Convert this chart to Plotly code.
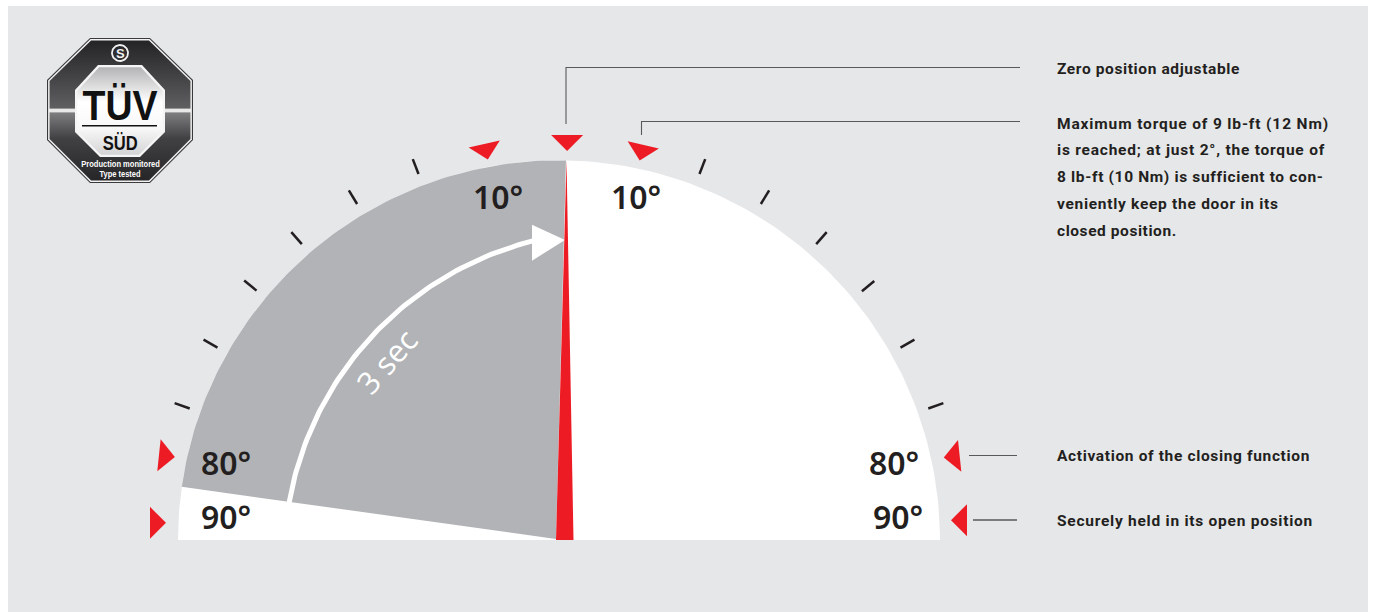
import json
import numpy as np
import plotly.graph_objects as go

# ---------- values ----------
tick_angles_right = [21, 31, 41, 50.6, 60.6, 70.4]
tick_angles_left = [-21, -31, -41, -50.5, -60.6, -70.4]
pointer_angles = [1.2, 12.0, -10.6, 77.9, -77.8, 87.1, -87.5]
pointer_radii = [389, 388, 387, 393.5, 393, 392.5, 393.4]
pointer_turns = [0, 13, -13, 84, -84, 90, -90]
scale_labels = ["10°", "10°", "80°", "90°", "80°", "90°"]
sweep_label = "3 sec"
notes_zero = ["Zero position adjustable"]
notes_torque = ["Maximum torque of 9 lb-ft (12 Nm)",
                "is reached; at just 2°, the torque of",
                "8 lb-ft (10 Nm) is sufficient to con-",
                "veniently keep the door in its",
                "closed position."]
note_closing = "Activation of the closing function"
note_open = "Securely held in its open position"
logo_main = "TÜV"
logo_sub = "SÜD"
logo_lines = ["Production monitored", "Type tested"]

# ---------- geometry ----------
CX, CY, R = 559, 540, 381
SQUASH = 0.9965
GRAY, RED, BG = "#b1b3b6", "#ed1c24", "#e6e7e9"


def polar(a, r, cx=CX, cy=CY, sq=1.0):
    a = np.radians(a)
    return cx + r * np.sin(a), cy - r * sq * np.cos(a)


def poly(xs, ys, color, **kw):
    return go.Scatter(x=list(xs), y=list(ys), mode="lines", fill="toself",
                      fillcolor=color, line=dict(width=0, color=color),
                      hoverinfo="skip", showlegend=False, **kw)


def line(xs, ys, color, width):
    return go.Scatter(x=list(xs), y=list(ys), mode="lines",
                      line=dict(color=color, width=width),
                      hoverinfo="skip", showlegend=False)


fig = go.Figure()

# white half disc
a = np.linspace(-90, 90, 181)
x, y = polar(a, R, sq=SQUASH)
fig.add_trace(poly(x, y, "#ffffff"))

# grey closing sector
a = np.linspace(-81.95, 1.05, 90)
x, y = polar(a, R, sq=SQUASH)
fig.add_trace(poly(list(x) + [556], list(y) + [539], GRAY))

# sweep arc with arrow head
a = np.linspace(-80.3, -14.1, 80)
x, y = polar(a, 329, 613, 560)
fig.add_trace(line(x, y, "#ffffff", 5))
fig.add_trace(poly([532, 565, 532], [224.7, 240, 260.7], "#ffffff"))

# red needle
fig.add_trace(poly([566.5, 573.5, 556], [160, 540, 540], RED))

# ticks
for t in tick_angles_left + tick_angles_right:
    x, y = polar(np.array([t, t]), np.array([392, 408]))
    fig.add_trace(line(x, y, "#231f20", 2.5))

# red pointers
for ang, rad, turn in zip(pointer_angles, pointer_radii, pointer_turns):
    tx, ty = polar(ang, rad)
    tr = np.radians(turn)
    ux, uy = np.sin(tr), -np.cos(tr)      # outward
    vx, vy = np.cos(tr), np.sin(tr)       # sideways
    h, w = 16, 16
    fig.add_trace(poly([tx, tx + h * ux + w * vx, tx + h * ux - w * vx],
                       [ty, ty + h * uy + w * vy, ty + h * uy - w * vy], RED))

# call-out lines
CALL = "#58595b"
fig.add_trace(line([566, 566, 1020], [124, 67.5, 67.5], CALL, 1.1))
fig.add_trace(line([641.5, 641.5, 1020], [135, 121.5, 121.5], CALL, 1.1))
fig.add_trace(line([969, 1017], [455.5, 455.5], CALL, 1.1))
fig.add_trace(line([973, 1017], [520, 520], CALL, 1.4))

# ---------- logo ----------
OCT_X = [90, 150, 193, 193, 150, 90, 47, 47]
OCT_Y = [38, 38, 80, 140, 183, 183, 140, 80]
LC = (120, 110.5)


def oct_scaled(s):
    return ([LC[0] + (v - LC[0]) * s for v in OCT_X],
            [LC[1] + (v - LC[1]) * s for v in OCT_Y])


x, y = oct_scaled(1.0)
fig.add_trace(poly(x, y, "#3a3a3c"))
x, y = oct_scaled(0.985)
fig.add_trace(poly(x, y, "#f2f2f2"))
x, y = oct_scaled(0.965)
fig.add_trace(go.Scatter(
    x=x, y=y, mode="lines", fill="toself", line=dict(width=0),
    fillgradient=dict(type="vertical", colorscale=[
        [0.0, "#262628"], [0.3, "#414143"], [0.483, "#7d7d7f"], [0.49, "#e8e8e8"],
        [0.51, "#e8e8e8"], [0.517, "#5f5f61"], [0.7, "#48484a"], [1.0, "#242426"]]),
    hoverinfo="skip", showlegend=False))
IN_X = [98, 142, 165, 165, 140, 100, 75, 75]
IN_Y = [65, 65, 90, 132, 157, 157, 132, 90]
fig.add_trace(poly(IN_X, IN_Y, "#f5f5f5"))
xi = [LC[0] + (v - LC[0]) * 0.95 for v in IN_X]
yi = [111 + (v - 111) * 0.95 for v in IN_Y]
fig.add_trace(go.Scatter(
    x=xi, y=yi, mode="lines", fill="toself", line=dict(width=0),
    fillgradient=dict(type="vertical", colorscale=[
        [0.0, "#d4d4d6"], [0.3, "#f8f8f8"], [0.6, "#ffffff"], [1.0, "#b4b4b6"]]),
    hoverinfo="skip", showlegend=False))
fig.add_trace(line([82, 157], [125.7, 125.7], "#111111", 1.4))
a = np.linspace(0, 360, 50)
x, y = polar(a, 8, 120, 53)
fig.add_trace(line(x, y, "#f2f2f2", 1.8))

ann = []


def txt(x, y, s, size, color="#231f20", family="Noto Sans", weight=400, anchor="center", angle=0):
    ann.append(dict(x=x, y=y, text=s, xref="x", yref="y", showarrow=False,
                    xanchor=anchor, yanchor="middle", textangle=angle, borderpad=0,
                    font=dict(size=size, color=color, family=family, weight=weight)))


LABEL_X = [498, 635.5, 226, 226, 894, 897.5]
LABEL_Y = [196.5, 196.5, 462.5, 516.5, 462.5, 516.5]
for lx, ly, s in zip(LABEL_X, LABEL_Y, scale_labels):
    txt(lx, ly, s, 32, weight=560)

txt(386.5, 361, sweep_label, 31, color="#ffffff", family="Open Sans", weight=380, angle=-49)

NOTE = dict(size=15.5, family="Roboto", weight=700, anchor="left")
txt(1057, 69, notes_zero[0], **NOTE)
for ly, s in zip([124, 150, 177, 204, 231], notes_torque):
    txt(1057, ly, s, **NOTE)
txt(1057, 456, note_closing, **NOTE)
txt(1057, 521, note_open, **NOTE)

LS = "Liberation Sans"
txt(119.5, 105, logo_main, 42, color="#111111", family=LS, weight=700)
txt(120, 142, logo_sub, 21, color="#111111", family=LS, weight=700)
txt(120, 163, logo_lines[0], 9.5, color="#ffffff", family=LS, weight=700)
txt(120, 173, logo_lines[1], 9.5, color="#ffffff", family=LS, weight=700)
txt(120, 53, "S", 13, color="#f2f2f2", family=LS, weight=700)

fig.update_layout(
    width=1360, height=606, margin=dict(l=0, r=0, t=0, b=0),
    paper_bgcolor=BG, plot_bgcolor=BG, showlegend=False, annotations=ann,
    xaxis=dict(range=[8, 1368], visible=False, fixedrange=True),
    yaxis=dict(range=[612, 6], visible=False, fixedrange=True),
)

# text widths measured in the picture: the fonts installed here set tighter or wider
NOTE_WIDTHS = dict(zip(notes_zero + notes_torque + [note_closing, note_open],
                       [183, 272, 268, 265.7, 221.7, 119.7, 253, 256]))
LOGO_WIDTHS = {logo_main: 75, logo_sub: 35, logo_lines[0]: 78.6, logo_lines[1]: 41}
POST = """
document.body.style.margin='6px 8px 0 8px';document.body.style.overflow='hidden';
var NW=%s, LW=%s;
document.querySelectorAll('.annotation-text').forEach(function(el){
  var t=el.textContent;
  if(NW[t]){
    var b=el.getBBox().x, w=el.getComputedTextLength();
    el.style.letterSpacing=((NW[t]-w)/t.length)+'px';
    var a=el.getBBox().x;
    el.setAttribute('x', parseFloat(el.getAttribute('x')||0)+(b-a)-1);
  } else if(LW[t]){
    el.setAttribute('textLength', LW[t]);
    el.setAttribute('lengthAdjust','spacingAndGlyphs');
  }
});
""" % (json.dumps(NOTE_WIDTHS), json.dumps(LOGO_WIDTHS))
fig.write_html("out.html", config={"displayModeBar": False}, post_script=POST)
